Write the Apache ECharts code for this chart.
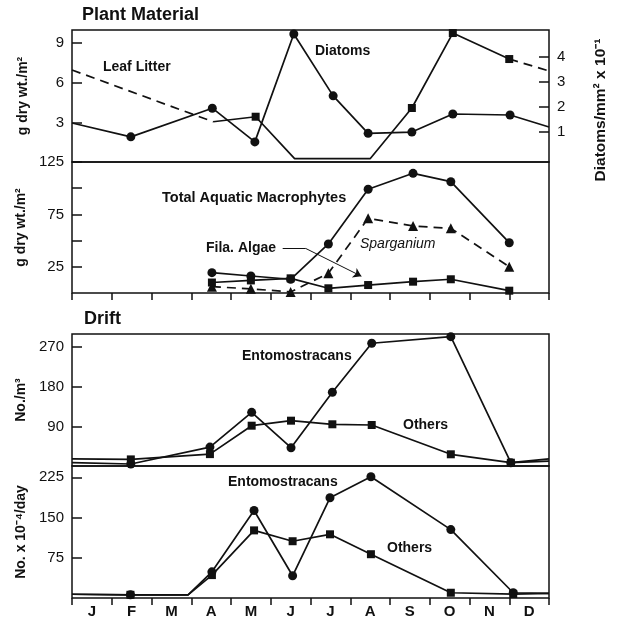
<!DOCTYPE html>
<html>
<head>
<meta charset="utf-8">
<script src="https://cdn.jsdelivr.net/npm/echarts@6/dist/echarts.min.js"></script>
<style>
  html, body { margin: 0; padding: 0; background: #fff; }
  #chart { width: 624px; height: 620px; }
</style>
</head>
<body>
<div id="chart"></div>
<script>
  // month letters, one per month; x values below are in months from 1 Jan (0..12)
  const months = ['J', 'F', 'M', 'A', 'M', 'J', 'J', 'A', 'S', 'O', 'N', 'D']

  // Plant Material (top panel)
  const diatomX = [0, 1.48, 3.53, 4.6, 5.58, 6.57, 7.45, 8.55, 9.58, 11.02, 12]
  const diatomY = [1.35, 0.8, 1.94, 0.6, 4.89, 2.43, 0.94, 0.99, 1.71, 1.67, 1.19]
  const leafX = [0, 3.55, 4.62, 5.6, 7.5, 8.55, 9.58, 11.0, 12]
  const leafY = [6.97, 3.05, 3.43, 0.25, 0.25, 4.09, 9.77, 7.8, 6.9]

  // aquatic macrophytes (second panel)
  const macroX = [3.52, 4.5, 5.5, 6.45, 7.45, 8.58, 9.53, 11.0]
  const totalMacro = [19.4, 16.2, 13.1, 46.8, 99, 114.2, 106.2, 48]
  const sparganium = [6, 4, 1, 18.8, 71.3, 63.9, 61.7, 25.1]
  const filaAlgae = [10, 12, 14, 4.5, 7.6, 10.8, 13.1, 2.2]

  // Drift, No./m3
  const driftX = [0, 1.48, 3.47, 4.52, 5.51, 6.55, 7.54, 9.53, 11.04, 12]
  const driftEnto = [7.5, 4.5, 43, 122, 41.6, 167.5, 279, 294, 7.5, 11]
  const driftOthers = [16, 15, 27, 91.6, 103, 94.8, 93.2, 26.6, 7.5, 16]

  // Drift, No. x 10^-4 / day
  const dayX = [0, 1.47, 2.92, 3.52, 4.58, 5.55, 6.49, 7.52, 9.53, 11.1, 12]
  const dayEnto = [7, 6, 6, 48.8, 163, 41.4, 186.8, 226, 127.5, 9.8, 8.7]
  const dayOthers = [7, 6, 6, 42.7, 126, 105.8, 118.7, 81.6, 9.8, 7.4, 8.7]

  // axis ticks / labels
  const plantTicks = [3, 6, 9]
  const diatomTicks = [1, 2, 3, 4]
  const macroTicks = [25, 50, 75, 100, 125]
  const macroLabels = [25, 75, 125]
  const driftTicks = [90, 180, 270]
  const dayTicks = [75, 150, 225]

  const font = '"Liberation Sans", Arial, sans-serif'
  const black = '#111'

  // build [x, y] points; indices in `bare` get no marker
  function pts(xs, ys, bare = []) {
    return xs.map((x, i) => (bare.includes(i) ? { value: [x, ys[i]], symbol: 'none' } : [x, ys[i]]))
  }

  function line(grid, yAxis, data, symbol, dashed) {
    return {
      type: 'line',
      xAxisIndex: grid,
      yAxisIndex: yAxis,
      data: data,
      symbol: symbol,
      symbolSize: symbol === 'rect' ? 8 : symbol === 'triangle' ? 10 : 9,
      showAllSymbol: true,
      clip: false,
      lineStyle: { color: black, width: 1.7, type: dashed ? [9, 6] : 'solid' },
      itemStyle: { color: black },
      animation: false,
      z: 3,
    }
  }

  function yAxis(grid, min, max, ticks, labels, name, position) {
    return {
      type: 'value',
      gridIndex: grid,
      position: position || 'left',
      min,
      max,
      axisLine: { show: false },
      splitLine: { show: false },
      axisTick: { inside: true, length: 10, customValues: ticks, lineStyle: { color: black, width: 1.5 } },
      axisLabel: { customValues: labels, color: black, fontSize: 15, fontFamily: font, margin: 8 },
      name: name,
      nameLocation: 'middle',
      nameRotate: 90,
      nameGap: 42,
      nameTextStyle: { color: black, fontSize: 14, fontWeight: 'bold', fontFamily: font },
    }
  }

  const monthEdges = months.map((m, i) => i).concat([12])
  const monthMids = months.map((m, i) => i + 0.5)

  const grids = [
    { left: 72, top: 30, width: 477, height: 132 },
    { left: 72, top: 162, width: 477, height: 131 },
    { left: 72, top: 334, width: 477, height: 132 },
    { left: 72, top: 466, width: 477, height: 132 },
  ].map((g) => ({ ...g, show: true, borderColor: black, borderWidth: 1.5 }))

  const xAxes = grids.map((g, i) => ({
    type: 'value',
    gridIndex: i,
    min: 0,
    max: 12,
    axisLine: { show: false },
    splitLine: { show: false },
    axisTick: {
      show: i === 1 || i === 3,
      inside: false,
      length: 7,
      customValues: monthEdges,
      lineStyle: { color: black, width: 1.5 },
    },
    axisLabel: {
      show: i === 3,
      customValues: monthMids,
      formatter: (v) => months[Math.floor(v)],
      color: black,
      fontSize: 15,
      fontWeight: 'bold',
      fontFamily: font,
      margin: 6,
    },
  }))

  const yAxes = [
    yAxis(0, 0, 10, plantTicks, plantTicks, 'g dry wt./m²'),
    yAxis(0, -0.2, 5.05, diatomTicks, diatomTicks, '', 'right'),
    yAxis(1, 0, 125, macroTicks, macroLabels, 'g dry wt./m²'),
    yAxis(2, 0, 300, driftTicks, driftTicks, 'No./m³'),
    yAxis(3, 0, 246, dayTicks, dayTicks, 'No. x 10⁻⁴/day'),
  ]

  const algae = line(1, 2, pts(macroX, filaAlgae), 'rect')
  algae.markLine = {
    silent: true,
    symbol: ['none', 'arrow'],
    symbolSize: 8,
    label: { show: false },
    lineStyle: { color: black, width: 1, type: 'solid' },
    data: [
      [{ coord: [5.3, 42.5] }, { coord: [5.88, 42.5], symbol: 'none' }],
      [{ coord: [5.88, 42.5] }, { coord: [7.28, 16] }],
    ],
  }

  const series = [
    // plant material
    line(0, 1, pts(diatomX, diatomY, [0, 10]), 'circle'),
    line(0, 0, pts(leafX.slice(1, 8), leafY.slice(1, 8), [0, 2, 3]), 'rect'),
    line(0, 0, pts(leafX.slice(0, 2), leafY.slice(0, 2)), 'none', true),
    line(0, 0, pts(leafX.slice(7), leafY.slice(7)), 'none', true),
    // macrophytes
    line(1, 2, pts(macroX, totalMacro), 'circle'),
    line(1, 2, pts(macroX, sparganium), 'triangle', true),
    algae,
    // drift
    line(2, 3, pts(driftX, driftEnto, [0, 9]), 'circle'),
    line(2, 3, pts(driftX, driftOthers, [0, 9]), 'rect'),
    line(3, 4, pts(dayX, dayEnto, [0, 2, 10]), 'circle'),
    line(3, 4, pts(dayX, dayOthers, [0, 2, 10]), 'rect'),
  ]

  function text(left, top, str, size, extra) {
    return {
      type: 'text',
      left,
      top,
      style: Object.assign(
        { text: str, fill: black, fontSize: size, fontWeight: 'bold', fontFamily: font },
        extra || {}
      ),
    }
  }

  const graphic = [
    text(82, 6, 'Plant Material', 18),
    text(84, 310, 'Drift', 18),
    text(103, 60, 'Leaf Litter', 14),
    text(315, 44, 'Diatoms', 14),
    text(162, 190, 'Total Aquatic Macrophytes', 14.5),
    text(206, 241, 'Fila. Algae', 14),
    text(360, 237, 'Sparganium', 14, { fontWeight: 'normal', fontStyle: 'italic' }),
    text(242, 349, 'Entomostracans', 14),
    text(403, 418, 'Others', 14),
    text(228, 475, 'Entomostracans', 14),
    text(387, 541, 'Others', 14),
    {
      type: 'text',
      x: 601,
      y: 110,
      rotation: Math.PI / 2,
      style: {
        text: 'Diatoms/mm² x 10⁻¹',
        fill: black,
        fontSize: 15.5,
        fontWeight: 'bold',
        fontFamily: font,
        align: 'center',
        verticalAlign: 'middle',
      },
    },
  ]

  const chart = echarts.init(document.getElementById('chart'))
  chart.setOption({
    animation: false,
    backgroundColor: '#fff',
    grid: grids,
    xAxis: xAxes,
    yAxis: yAxes,
    series: series,
    graphic: graphic,
  })
</script>
</body>
</html>
